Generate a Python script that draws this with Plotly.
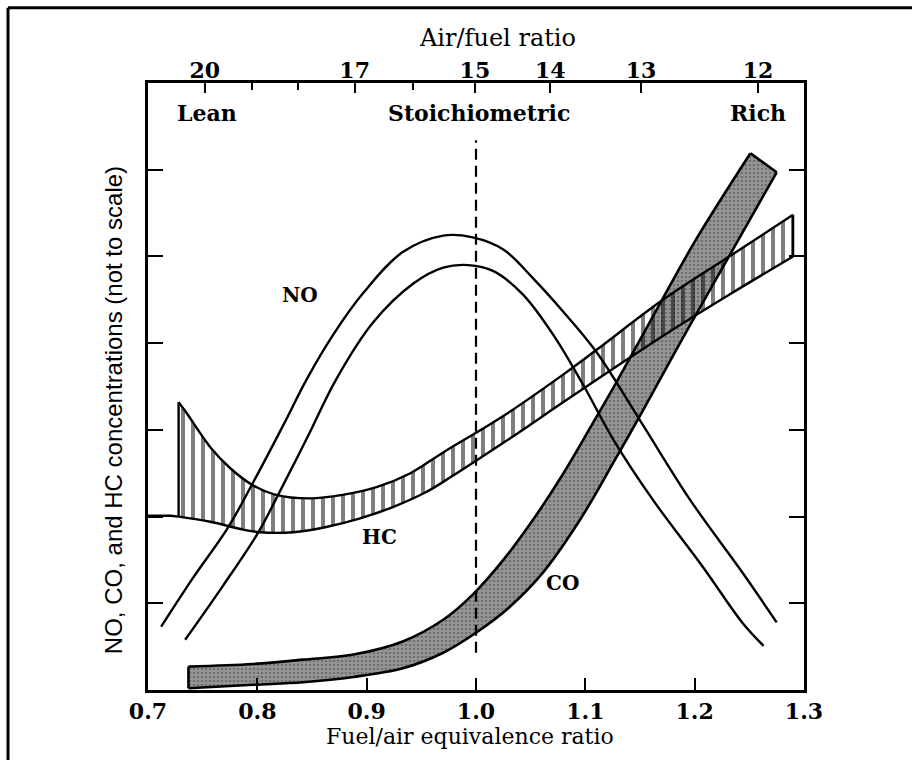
import plotly.graph_objects as go

# Fuel/air equivalence ratio (phi) vs. relative concentration (arbitrary units, not to scale)

# NO: pair of parallel curves peaking slightly lean of stoichiometric
no_outer_phi = [0.712, 0.741, 0.773, 0.796, 0.824, 0.845, 0.869, 0.897, 0.933, 0.970,
                0.997, 1.025, 1.052, 1.080, 1.110, 1.150, 1.196, 1.244, 1.275]
no_outer_c = [0.73, 1.29, 1.87, 2.39, 3.06, 3.58, 4.09, 4.58, 5.05, 5.24,
              5.22, 5.08, 4.75, 4.36, 3.90, 3.11, 2.19, 1.35, 0.78]
no_inner_phi = [0.734, 0.769, 0.801, 0.819, 0.846, 0.872, 0.906, 0.943, 0.970, 0.993,
                1.016, 1.043, 1.071, 1.098, 1.126, 1.162, 1.208, 1.244, 1.263]
no_inner_c = [0.58, 1.21, 1.82, 2.25, 2.92, 3.58, 4.24, 4.69, 4.87, 4.90,
              4.83, 4.56, 4.09, 3.52, 2.88, 2.19, 1.41, 0.77, 0.51]

# HC: hatched band, high when very lean, rising steadily toward rich mixtures
hc_upper_phi = [0.728, 0.735, 0.757, 0.775, 0.796, 0.817, 0.848, 0.878, 0.909, 0.940,
                0.970, 1.025, 1.080, 1.110, 1.171, 1.233, 1.290]
hc_upper_c = [3.32, 3.20, 2.80, 2.56, 2.36, 2.25, 2.21, 2.25, 2.34, 2.50,
              2.74, 3.16, 3.64, 3.92, 4.50, 5.01, 5.48]
hc_lower_phi = [0.728, 0.757, 0.787, 0.802, 0.833, 0.863, 0.894, 0.924, 0.954, 0.970,
                1.025, 1.080, 1.126, 1.183, 1.233, 1.290]
hc_lower_c = [2.00, 1.94, 1.85, 1.82, 1.82, 1.88, 1.98, 2.11, 2.28, 2.40,
              2.85, 3.32, 3.71, 4.18, 4.57, 5.00]
hc_lead_phi = [0.700, 0.721, 0.728]
hc_lead_c = [2.01, 2.01, 2.00]

# CO: shaded band, low when lean, climbing steeply once the mixture is rich
co_upper_phi = [0.737, 0.796, 0.842, 0.888, 0.933, 0.970, 0.997, 1.025, 1.052, 1.080,
                1.107, 1.128, 1.165, 1.201, 1.251]
co_upper_c = [0.27, 0.30, 0.35, 0.41, 0.56, 0.81, 1.10, 1.50, 1.96, 2.50,
              3.08, 3.54, 4.38, 5.19, 6.19]
co_lower_phi = [0.737, 0.796, 0.842, 0.888, 0.933, 0.970, 1.000, 1.031, 1.061, 1.095,
                1.126, 1.153, 1.183, 1.217, 1.244, 1.275]
co_lower_c = [0.02, 0.06, 0.09, 0.15, 0.25, 0.43, 0.66, 0.96, 1.35, 1.96,
              2.63, 3.23, 3.92, 4.68, 5.28, 5.97]

# Stoichiometric marker
stoich_phi = [1.0, 1.0]
stoich_c = [0.43, 6.34]

# Axis ticks
phi_ticks = [0.7, 0.8, 0.9, 1.0, 1.1, 1.2, 1.3]
phi_labels = ["0.7", "0.8", "0.9", "1.0", "1.1", "1.2", "1.3"]
afr_tick_phi = [0.752, 0.889, 0.999, 1.068, 1.151, 1.258]
afr_labels = ["20", "17", "15", "14", "13", "12"]
afr_minor_phi = [0.795, 0.837, 0.942]      # 19, 18, 16
conc_ticks = [1, 2, 3, 4, 5, 6]

SERIF = "DejaVu Serif"
INK = "black"
NOHOVER = dict(hoverinfo="skip", showlegend=False)

fig = go.Figure()


def add_band(upper_x, upper_y, lower_x, lower_y, fill_kw, width):
    """Outlined band: lower edge, upper edge filled down to it, and the two end caps."""
    fig.add_trace(go.Scatter(x=lower_x, y=lower_y, mode="lines",
                             line=dict(color=INK, width=width, shape="spline", smoothing=1.0),
                             **NOHOVER))
    fig.add_trace(go.Scatter(x=upper_x, y=upper_y, mode="lines", fill="tonexty",
                             line=dict(color=INK, width=width, shape="spline", smoothing=1.0),
                             **fill_kw, **NOHOVER))
    for i in (0, -1):
        fig.add_trace(go.Scatter(x=[upper_x[i], lower_x[i]], y=[upper_y[i], lower_y[i]],
                                 mode="lines", line=dict(color=INK, width=width),
                                 **NOHOVER))


add_band(co_upper_phi, co_upper_c, co_lower_phi, co_lower_c,
         dict(fillcolor="#8e8e8e",
              fillpattern=dict(shape=".", fgcolor="#4c4c4c", bgcolor="#969696",
                               size=4, solidity=0.35)),
         2.6)

for xs, ys in ((no_outer_phi, no_outer_c), (no_inner_phi, no_inner_c)):
    fig.add_trace(go.Scatter(
        x=xs, y=ys, mode="lines", line=dict(color=INK, width=2.4, shape="spline"),
        **NOHOVER))

add_band(hc_upper_phi, hc_upper_c, hc_lower_phi, hc_lower_c,
         dict(fillcolor="rgba(0,0,0,0)",
              fillpattern=dict(shape="|", fgcolor=INK, bgcolor="rgba(0,0,0,0)",
                               size=10, solidity=0.4)),
         2.4)
fig.add_trace(go.Scatter(
    x=hc_lead_phi, y=hc_lead_c, mode="lines", line=dict(color=INK, width=2.4),
    **NOHOVER))

fig.add_trace(go.Scatter(
    x=stoich_phi, y=stoich_c, mode="lines",
    line=dict(color=INK, width=2.2, dash="11px,6px"), **NOHOVER))

# empty trace so the top air/fuel axis is drawn
fig.add_trace(go.Scatter(x=[None], y=[None], xaxis="x2", mode="lines", **NOHOVER))

region_font = dict(family=SERIF, size=22, color=INK, weight="bold")
for txt, x, y in (("Lean", 0.754, 6.65), ("Stoichiometric", 1.003, 6.65),
                  ("Rich", 1.258, 6.65)):
    fig.add_annotation(x=x, y=y, xref="x", yref="y", text=txt, showarrow=False,
                       font=region_font, xanchor="center", yanchor="middle")

species_font = dict(family=SERIF, size=20, color=INK, weight="bold")
for txt, x, y in (("NO", 0.839, 4.56), ("HC", 0.912, 1.77), ("CO", 1.079, 1.23)):
    fig.add_annotation(x=x, y=y, xref="x", yref="y", text=txt, showarrow=False,
                       font=species_font, xanchor="center", yanchor="middle")

fig.add_annotation(x=0.5335, y=1.074, xref="paper", yref="paper",
                   text="Air/fuel ratio", showarrow=False,
                   font=dict(family=SERIF, size=24, color=INK),
                   xanchor="center", yanchor="middle")
fig.add_annotation(x=0.491, y=-0.077, xref="paper", yref="paper",
                   text="Fuel/air equivalence ratio", showarrow=False,
                   font=dict(family=SERIF, size=22, color=INK),
                   xanchor="center", yanchor="middle")
fig.add_annotation(x=-0.0534, y=0.461, xref="paper", yref="paper",
                   text="NO, CO, and HC concentrations (not to scale)",
                   showarrow=False, textangle=-90,
                   font=dict(family="Liberation Sans Narrow, Liberation Sans", size=24,
                             color=INK),
                   xanchor="center", yanchor="middle")

# outer page border (left and top edges)
fig.add_shape(type="line", xref="paper", yref="paper", x0=-0.2134, x1=-0.2134,
              y0=-0.116, y1=1.124, line=dict(color=INK, width=3))
fig.add_shape(type="line", xref="paper", yref="paper", x0=-0.2134, x1=1.165,
              y0=1.124, y1=1.124, line=dict(color=INK, width=3))

fig.update_layout(
    width=912, height=760, autosize=False,
    margin=dict(l=148, r=108, t=83, b=70),
    paper_bgcolor="white", plot_bgcolor="white",
    showlegend=False,
    xaxis=dict(range=[0.7, 1.3], tickmode="array", tickvals=phi_ticks, ticktext=phi_labels,
               ticks="inside", ticklen=12, tickwidth=2.2, tickcolor=INK,
               showline=True, linecolor=INK, linewidth=2.6, mirror=True,
               showgrid=False, zeroline=False,
               tickfont=dict(family=SERIF, size=22, color=INK, weight="bold")),
    xaxis2=dict(range=[0.7, 1.3], overlaying="x", side="top", anchor="y",
                tickmode="array", tickvals=afr_tick_phi, ticktext=afr_labels,
                ticks="inside", ticklen=10, tickwidth=2.2, tickcolor=INK,
                minor=dict(tickmode="array", tickvals=afr_minor_phi, ticks="inside",
                           ticklen=7, tickwidth=2, tickcolor=INK),
                showline=False, showgrid=False, zeroline=False,
                tickfont=dict(family=SERIF, size=22, color=INK, weight="bold")),
    yaxis=dict(range=[0, 7], tickmode="array", tickvals=conc_ticks,
               ticks="inside", ticklen=15, tickwidth=2.2, tickcolor=INK,
               showticklabels=False, showline=True, linecolor=INK, linewidth=2.6,
               mirror="ticks", showgrid=False, zeroline=False),
)

fig.write_html("out.html")
